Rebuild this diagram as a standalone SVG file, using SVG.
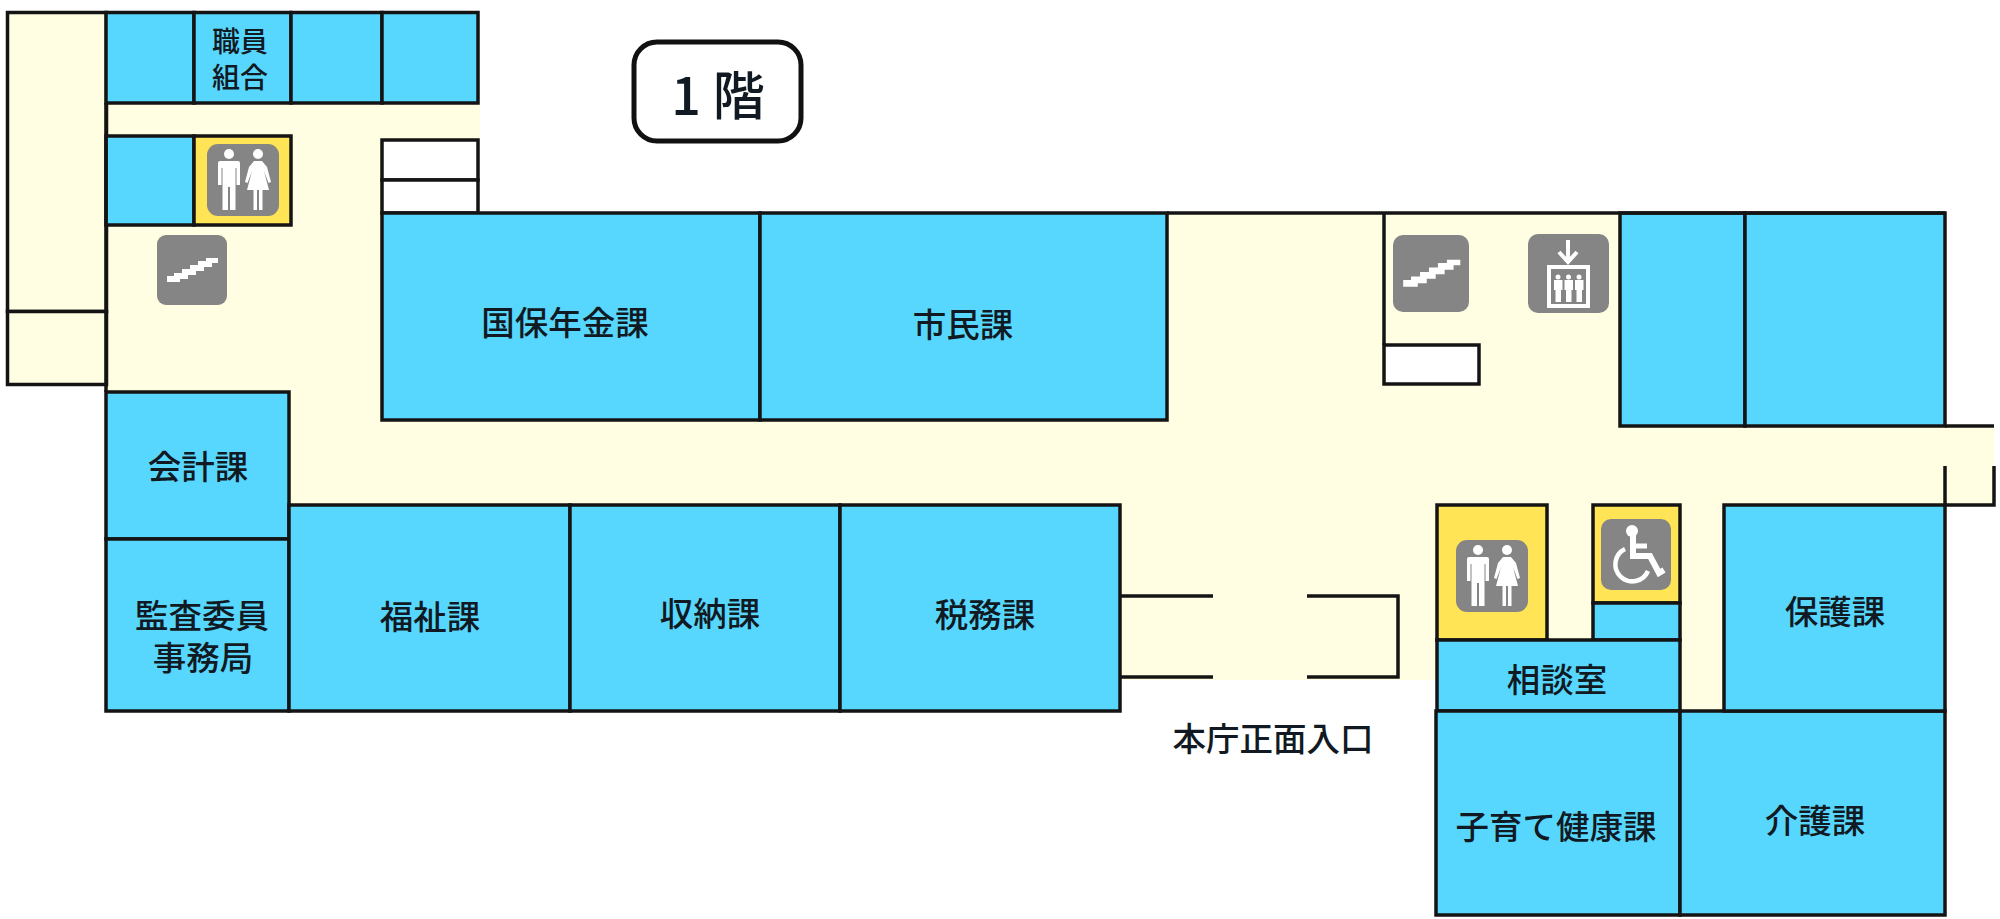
<svg xmlns="http://www.w3.org/2000/svg" width="2000" height="919" viewBox="0 0 2000 919">
<style>
.r{stroke:#141414;stroke-width:3.500}
.b{fill:#58d7fe}
.c{fill:#fffde2}
.y{fill:#ffe455}
.w{fill:#fff}
.l{fill:none;stroke:#141414;stroke-width:3.500}
text{font-family:"Noto Sans CJK JP","Noto Sans",sans-serif;fill:#111a22;font-size:33.500px;font-weight:500;text-anchor:middle;dominant-baseline:central}
.i{fill:#fff}
.sm{font-size:28px}
</style>
<defs>
<g id="wc">
<rect width="72" height="72" rx="11" fill="#858585"/>
<circle class="i" cx="22" cy="10" r="5"/>
<path class="i" d="M13 17H31Q33 17 33 19V41H29.500V24H28.500V66H23V43H21V66H15.500V24H14.500V41H11V19Q11 17 13 17Z"/>
<circle class="i" cx="51" cy="10" r="5"/>
<path class="i" d="M47 17H55L60 23L64 38L61.500 39L57 27L62 46H55.500V66H52V46H50V66H46.500V46H40L45 27L40.500 39L38 38L42 23Z"/>
</g>
<path id="st" class="i" d="M10 41H17V38H25V34H33V30H41V26H49V23H61V28H55V32H47V36H39V40H31V44H23V47H10Z"/>
</defs>
<g id="floor">
<path class="c" d="M106 103H480V213H1620V426H1994V505H1724V711H1680V640H1437V680H1120V505H290V392H106Z"/>
</g>
<g id="annex">
<rect class="r c" x="7.500" y="12.500" width="99" height="299"/>
<rect class="r c" x="7.500" y="311.500" width="99" height="73"/>
</g>
<g id="room-top-1"><rect class="r b" x="106" y="12.500" width="88" height="90.500"/></g>
<g id="room-union"><rect class="r b" x="194" y="12.500" width="97" height="90.500"/><text class="sm" x="240" y="40">職員</text><text class="sm" x="240" y="76">組合</text></g>
<g id="room-top-3"><rect class="r b" x="291" y="12.500" width="91" height="90.500"/></g>
<g id="room-top-4"><rect class="r b" x="382" y="12.500" width="96" height="90.500"/></g>
<g id="room-nw"><rect class="r b" x="106" y="136" width="88" height="89"/></g>
<g id="wc-north"><rect class="r y" x="194" y="136" width="97" height="89"/><use href="#wc" x="207" y="144"/></g>
<g id="stairs-west"><rect x="157" y="235" width="70" height="70" rx="9" fill="#858585"/><use href="#st" x="157" y="235"/></g>
<g id="white-north">
<rect class="r w" x="382" y="140" width="96" height="40"/>
<rect class="r w" x="382" y="180" width="96" height="33"/>
</g>
<g id="room-kokuho"><rect class="r b" x="382" y="213" width="378" height="207"/><text x="565" y="320">国保年金課</text></g>
<g id="room-shimin"><rect class="r b" x="760" y="213" width="407" height="207"/><text x="963" y="322">市民課</text></g>
<g id="room-kaikei"><rect class="r b" x="106" y="392" width="183" height="147"/><text x="198" y="464">会計課</text></g>
<g id="room-kansa"><rect class="r b" x="106" y="539" width="183" height="172"/><text x="202" y="613">監査委員</text><text x="203" y="655">事務局</text></g>
<g id="room-fukushi"><rect class="r b" x="289" y="505" width="281" height="206"/><text x="430" y="614">福祉課</text></g>
<g id="room-shuno"><rect class="r b" x="570" y="505" width="270" height="206"/><text x="710" y="611">収納課</text></g>
<g id="room-zeimu"><rect class="r b" x="840" y="505" width="280" height="206"/><text x="985" y="612">税務課</text></g>
<g id="room-ne-1"><rect class="r b" x="1620" y="213" width="125" height="213"/></g>
<g id="room-ne-2"><rect class="r b" x="1745" y="213" width="200" height="213"/></g>
<g id="stairs-east"><rect x="1393" y="235" width="76" height="77" rx="10" fill="#858585"/><use href="#st" transform="translate(1392 234) scale(1.12)"/></g>
<g id="elevator">
<rect x="1528" y="234" width="81" height="79" rx="10" fill="#858585"/>
<path d="M1568 240V261M1559 252L1568 262L1577 252" fill="none" stroke="#fff" stroke-width="4"/>
<rect x="1549" y="267" width="39" height="39" fill="none" stroke="#fff" stroke-width="4"/>
<g class="i">
<circle cx="1558" cy="277" r="2.500"/><circle cx="1568.500" cy="277" r="2.500"/><circle cx="1579" cy="277" r="2.500"/>
<path d="M1554 280H1562.500V290H1561V302H1555.500V290H1554Z"/>
<path d="M1564.500 280H1573V290H1571.500V302H1566V290H1564.500Z"/>
<path d="M1575 280H1583.500V290H1582V302H1576.500V290H1575Z"/>
</g>
</g>
<g id="white-east"><rect class="r w" x="1384" y="345" width="95" height="39"/></g>
<g id="wc-south"><rect class="r y" x="1437" y="505" width="110" height="135"/><use href="#wc" x="1456" y="540"/></g>
<g id="accessible-wc">
<rect class="r y" x="1593" y="505" width="87" height="98"/>
<rect x="1601" y="519" width="70" height="71" rx="10" fill="#858585"/>
<circle class="i" cx="1632" cy="531" r="6"/>
<path d="M1633 534V556H1650L1659 573L1664 570" fill="none" stroke="#fff" stroke-width="6"/>
<path d="M1633 546H1647" fill="none" stroke="#fff" stroke-width="5"/>
<path d="M1625 549A17 17 0 1 0 1648 571" fill="none" stroke="#fff" stroke-width="4.500"/>
</g>
<g id="room-small"><rect class="r b" x="1593" y="603" width="87" height="37"/></g>
<g id="room-sodan"><rect class="r b" x="1437" y="640" width="243" height="71"/><text x="1557" y="677">相談室</text></g>
<g id="room-kosodate"><rect class="r b" x="1436" y="711" width="244" height="204"/><text x="1556" y="824">子育て健康課</text></g>
<g id="room-kaigo"><rect class="r b" x="1680" y="711" width="265" height="204"/><text x="1815" y="818">介護課</text></g>
<g id="room-hogo"><rect class="r b" x="1724" y="505" width="221" height="206"/><text x="1835" y="609">保護課</text></g>
<g id="connectors">
<path class="l" d="M1167 213H1945"/>
<path class="l" d="M106 103V392"/>
<path class="l" d="M1384 213V345"/>
<path class="l" d="M1945 426H1994"/>
<path class="l" d="M1945 466V505H1994V466"/>
<path class="l" d="M1120 596H1213M1307 596H1398V677H1307M1213 677H1120"/>
</g>
<g id="entrance-label"><text x="1273" y="736">本庁正面入口</text></g>
<g id="floor-label">
<rect x="634" y="42" width="167" height="99" rx="23" fill="#fff" stroke="#111" stroke-width="5"/>
<text x="718" y="92" style="font-size:52px">1 階</text>
</g>
</svg>
